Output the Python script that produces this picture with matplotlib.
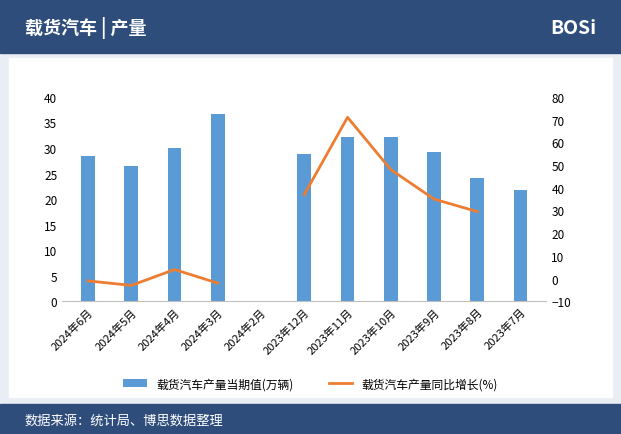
import matplotlib
matplotlib.use("Agg")
import matplotlib.pyplot as plt
import numpy as np
from matplotlib.patches import Rectangle

plt.rcParams['font.family'] = ['Noto Sans CJK SC', 'DejaVu Sans']

categories = ["2024年6月","2024年5月","2024年4月","2024年3月","2024年2月","2023年12月",
              "2023年11月","2023年10月","2023年9月","2023年8月","2023年7月"]
production = [28.5, 26.4, 30.0, 36.7, np.nan, 28.9, 32.2, 32.2, 29.3, 24.2, 21.7]
growth = [-1, -3, 4, -2, np.nan, 37, 71, 48, 35, 29.5, np.nan]

fig = plt.figure(figsize=(6.21, 4.35), dpi=100)
fig.patch.set_facecolor('#e9eef5')
fig.add_artist(Rectangle((0, 0.875), 1, 0.125, transform=fig.transFigure, color='#2e4d7b', zorder=-2))
fig.add_artist(Rectangle((0, 0), 1, 0.07, transform=fig.transFigure, color='#2e4d7b', zorder=-2))
fig.add_artist(Rectangle((0.015, 0.085), 0.97, 0.78, transform=fig.transFigure, color='white', zorder=-2))
fig.text(0.04, 0.935, "载货汽车 | 产量", color='white', fontsize=13, fontweight='bold', va='center')
fig.text(0.96, 0.935, "BOSi", color='white', fontsize=14, fontweight='bold', va='center', ha='right')
fig.text(0.04, 0.033, "数据来源：统计局、博思数据整理", color='white', fontsize=9.5, va='center')

ax = fig.add_axes([0.1, 0.305, 0.78, 0.47])
ax.patch.set_alpha(0)
x = np.arange(len(categories))
ax.bar(x, production, width=0.32, color='#5b9bd5', label='载货汽车产量当期值(万辆)')
ax.set_ylim(0, 40)
ax.set_yticks(range(0, 41, 5))
ax.set_xlim(-0.6, len(categories) - 0.4)
ax.set_xticks(x)
ax.set_xticklabels(categories, rotation=45, ha='right', rotation_mode='anchor', fontsize=8)
ax.tick_params(axis='y', labelsize=8.5, length=0)
ax.tick_params(axis='x', length=0)
for s in ['top', 'right', 'left']:
    ax.spines[s].set_visible(False)
ax.spines['bottom'].set_color('#bfbfbf')

ax2 = ax.twinx()
ax2.plot(x, growth, color='#ed7d31', lw=2, label='载货汽车产量同比增长(%)')
ax2.set_ylim(-10, 80)
ax2.set_yticks(range(-10, 81, 10))
ax2.tick_params(axis='y', labelsize=8.5, length=0)
for s in ['top', 'right', 'left', 'bottom']:
    ax2.spines[s].set_visible(False)

h1, l1 = ax.get_legend_handles_labels()
h2, l2 = ax2.get_legend_handles_labels()
fig.legend(h1 + h2, l1 + l2, loc='center', bbox_to_anchor=(0.5, 0.115), ncol=2,
           frameon=False, fontsize=8.5, columnspacing=3)

fig.savefig('out.png', dpi=100, facecolor=fig.get_facecolor())
